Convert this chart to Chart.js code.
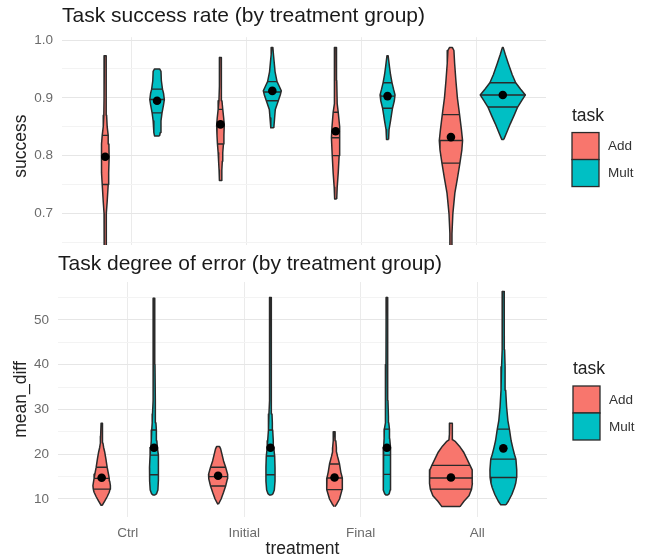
<!DOCTYPE html>
<html lang="en">
<meta charset="utf-8" />
<title>Task success rate / degree of error (violins)</title>
<script src="https://cdn.jsdelivr.net/npm/chart.js@4.4.1"></script>

<style>
body{margin:0;background:#fff;width:650px;height:560px;position:relative;overflow:hidden}
canvas{position:absolute;left:0;background:#fff}
#top{top:0}
#bottom{top:245px}
</style>

<body>
<canvas id="top" width="650" height="272"></canvas>
<canvas id="bottom" width="650" height="315"></canvas>

<script>
/*── categories ──*/
const treatments = ['Ctrl', 'Initial', 'Final', 'All'];
const tasks      = ['Add', 'Mult'];
const taskColors = ['#F8766D', '#00BFC4'];

/*── violin outlines: [value, half-width in category units], bottom to top ──*/
const successAddShape = [
  [[0.64,0.009],[0.665,0.009],[0.70,0.010],[0.72,0.017],[0.75,0.026],[0.77,0.030],[0.797,0.034],[0.82,0.032],[0.835,0.026],[0.85,0.017],[0.87,0.012],[0.90,0.010],[0.973,0.007]],
  [[0.757,0.009],[0.775,0.012],[0.79,0.016],[0.805,0.020],[0.82,0.026],[0.835,0.030],[0.852,0.033],[0.865,0.028],[0.88,0.020],[0.895,0.013],[0.92,0.009],[0.97,0.007]],
  [[0.725,0.009],[0.745,0.013],[0.77,0.022],[0.80,0.030],[0.831,0.037],[0.85,0.032],[0.875,0.022],[0.89,0.013],[0.93,0.009],[0.987,0.007]],
  [[0.64,0.009],[0.665,0.009],[0.70,0.017],[0.735,0.034],[0.76,0.056],[0.787,0.078],[0.81,0.095],[0.826,0.101],[0.845,0.091],[0.871,0.075],[0.90,0.056],[0.93,0.043],[0.96,0.032],[0.982,0.026],[0.987,0.013]]
];
const successMultShape = [
  [[0.834,0.022],[0.84,0.028],[0.86,0.034],[0.874,0.043],[0.888,0.056],[0.897,0.063],[0.908,0.056],[0.915,0.047],[0.93,0.037],[0.946,0.034],[0.95,0.022]],
  [[0.848,0.013],[0.865,0.020],[0.88,0.026],[0.895,0.052],[0.905,0.069],[0.912,0.078],[0.92,0.060],[0.928,0.041],[0.945,0.024],[0.96,0.017],[0.975,0.010],[0.987,0.005]],
  [[0.828,0.009],[0.845,0.013],[0.86,0.026],[0.882,0.043],[0.895,0.059],[0.905,0.065],[0.915,0.052],[0.926,0.039],[0.94,0.026],[0.955,0.016],[0.973,0.005]],
  [[0.828,0.009],[0.84,0.034],[0.855,0.065],[0.87,0.099],[0.884,0.129],[0.895,0.164],[0.905,0.196],[0.915,0.155],[0.926,0.112],[0.94,0.082],[0.96,0.047],[0.975,0.022],[0.987,0.004]]
];
const errorAddShape = [
  [[8.6,0.005],[9.5,0.026],[10.5,0.047],[11.5,0.065],[12.2,0.072],[13,0.075],[14,0.069],[14.6,0.065],[15.5,0.059],[17.1,0.047],[19,0.036],[20.5,0.026],[21.5,0.017],[22.5,0.011],[24,0.009],[26.9,0.005]],
  [[8.9,0.004],[10,0.026],[11.5,0.047],[12.9,0.065],[14.5,0.080],[15.5,0.082],[17.1,0.065],[18.5,0.047],[20,0.033],[21.2,0.022],[21.7,0.013]],
  [[8.3,0.004],[9,0.022],[10,0.043],[12.1,0.065],[13.3,0.069],[14.7,0.065],[16,0.054],[17.8,0.043],[19.5,0.026],[20.5,0.017],[21.5,0.016],[23,0.011],[25,0.005]],
  [[8.3,0.078],[9.5,0.112],[10.7,0.155],[12.2,0.177],[13.5,0.184],[14.7,0.184],[16.5,0.181],[17.5,0.164],[19.4,0.129],[20.5,0.108],[21.8,0.073],[22.8,0.039],[23.2,0.017],[24.5,0.013],[26.9,0.011]]
];
const errorMultShape = [
  [[10.9,0.009],[11.2,0.022],[12,0.033],[14,0.037],[15.4,0.039],[17,0.039],[19.8,0.034],[21.5,0.028],[23,0.024],[25.4,0.020],[27,0.016],[29,0.013],[32,0.009],[40,0.008],[50,0.007],[54.8,0.005]],
  [[10.9,0.009],[11.2,0.022],[12,0.033],[14,0.039],[15.4,0.039],[17,0.039],[19.6,0.036],[21.5,0.028],[23,0.024],[25.4,0.019],[27,0.016],[29,0.013],[32,0.009],[40,0.008],[50,0.007],[55,0.005]],
  [[10.9,0.009],[11.2,0.020],[12,0.028],[14,0.033],[15.5,0.033],[17.5,0.032],[19.8,0.029],[21.5,0.028],[23.5,0.024],[25.6,0.022],[27,0.016],[28.4,0.013],[32,0.009],[40,0.008],[50,0.007],[55,0.005]],
  [[8.7,0.022],[9.5,0.043],[11,0.073],[12.5,0.095],[13.5,0.106],[14.8,0.114],[16.5,0.115],[18.9,0.108],[20,0.095],[21.3,0.082],[23,0.067],[25.6,0.052],[27.5,0.039],[30.6,0.028],[34.3,0.020],[39.5,0.015],[43.3,0.011],[50,0.009],[56.3,0.007]]
];

/*── quartile lines (25 / 50 / 75 %) and means ──*/
const successAddQuart  = [[0.75,0.797,0.835],[0.82,0.852,0.88],[0.80,0.831,0.875],[0.787,0.826,0.871]];
const successMultQuart = [[0.874,0.897,0.915],[0.895,0.910,0.928],[0.882,0.903,0.926],[0.884,0.905,0.926]];
const successAddMean   = [0.798, 0.854, 0.842, 0.832];
const successMultMean  = [0.895, 0.912, 0.903, 0.905];

const errorAddQuart  = [[12.2,14.6,17.1],[12.9,15.0,17.1],[12.1,14.7,17.8],[12.2,14.7,17.5]];
const errorMultQuart = [[15.4,19.8,25.4],[15.4,19.6,25.4],[15.5,19.8,25.6],[14.8,18.9,25.6]];
const errorAddMean   = [14.75, 15.2, 14.8, 14.8];
const errorMultMean  = [21.45, 21.45, 21.45, 21.3];

/*── y tick positions ──*/
const successMajor = [0.7, 0.8, 0.9, 1.0];
const successMinor = [0.65, 0.75, 0.85, 0.95];
const errorMajor   = [10, 20, 30, 40, 50];
const errorMinor   = [15, 25, 35, 45, 55];

Chart.defaults.font.family = '"Liberation Sans", Arial, sans-serif';

const dodge = [-0.225, 0.225];   // Add left, Mult right

// violin edge at value v, between the two neighbouring outline points
function edgeAt(prof, v){
  for (let i = 1; i < prof.length; i++){
    const [v0, w0] = prof[i-1], [v1, w1] = prof[i];
    if (v >= v0 && v <= v1) return w0 + (w1 - w0) * (v - v0) / (v1 - v0);
  }
  return 0;
}

function panelDatasets(shapes, quarts, means){
  const sets = [];
  tasks.forEach((task, k) => {
    treatments.forEach((t, i) => {
      const c = i + 1 + dodge[k];
      const prof = shapes[k][i];
      const right = prof.map(([v, w]) => ({x: c + w, y: v}));
      const left  = prof.slice().reverse().map(([v, w]) => ({x: c - w, y: v}));
      sets.push({
        data: right.concat(left, [right[0]]),
        fill: 'shape', backgroundColor: taskColors[k],
        borderColor: '#2a2a2a', borderWidth: 1.5, borderJoinStyle: 'round',
        pointRadius: 0, tension: 0, order: 2
      });
      const lines = [];
      quarts[k][i].forEach(q => {
        const w = edgeAt(prof, q);
        lines.push({x: c - w, y: q}, {x: c + w, y: q}, {x: null, y: null});
      });
      sets.push({data: lines, fill: false, borderColor: '#2a2a2a', borderWidth: 1.4, pointRadius: 0, order: 1});
    });
    sets.push({
      data: means[k].map((m, i) => ({x: i + 1 + dodge[k], y: m})),
      showLine: false, pointRadius: 4.3, pointBackgroundColor: '#000', pointBorderWidth: 0, order: 0
    });
  });
  return sets;
}

/* legend "task" drawn beside the panel */
const taskLegend = {
  id: 'taskLegend',
  afterDraw(chart){
    const {ctx, chartArea: a} = chart;
    const x = a.right + 26, mid = (a.top + a.bottom) / 2;
    ctx.save();
    ctx.textAlign = 'left';
    ctx.textBaseline = 'middle';
    ctx.fillStyle = '#222';
    ctx.font = '17.5px "Liberation Sans", Arial, sans-serif';
    ctx.fillText('task', x, mid - 30);
    tasks.forEach((t, i) => {
      const y = mid - 13.5 + i * 27;
      ctx.fillStyle = taskColors[i];
      ctx.fillRect(x, y, 27, 27);
      ctx.strokeStyle = '#2a2a2a';
      ctx.lineWidth = 1.3;
      ctx.strokeRect(x, y, 27, 27);
      ctx.fillStyle = '#333';
      ctx.font = '13.5px "Liberation Sans", Arial, sans-serif';
      ctx.fillText(t, x + 36, y + 14);
    });
    ctx.restore();
  }
};

function panelOptions(o){
  return {
    responsive: false, animation: false, events: [],
    layout: { padding: { left: 0, right: o.padRight, top: 0, bottom: o.padBottom } },
    plugins: {
      legend: { display: false }, tooltip: { enabled: false },
      title: { display: true, text: o.title, align: 'start', fullSize: false, color: '#1a1a1a',
               font: { size: 21, weight: 'normal' }, padding: o.titlePad }
    },
    scales: {
      x: {
        type: 'linear', min: 0.4, max: 4.6,
        afterBuildTicks: s => { s.ticks = treatments.map((t, i) => ({ value: i + 1 })); },
        afterFit: s => { if (o.showX) s.height = 43; },
        grid: { color: '#ebebeb', drawTicks: false }, border: { display: false },
        ticks: { display: o.showX, padding: 8, color: '#6b6b6b', font: { size: 13.5 },
                 callback: v => treatments[v - 1] },
        title: { display: o.showX, text: 'treatment', color: '#222', font: { size: 17.5 }, padding: 0 }
      },
      y: {
        min: o.yMin, max: o.yMax,
        afterBuildTicks: s => { s.ticks = o.major.concat(o.minor).sort((a, b) => a - b).map(v => ({ value: v })); },
        afterFit: s => { s.width = o.yWidth; },
        grid: { drawTicks: false, color: c => o.major.includes(c.tick.value) ? '#e6e6e6' : '#f3f3f3' },
        border: { display: false },
        ticks: { padding: 9, color: '#6b6b6b', font: { size: 13.5 },
                 callback: v => o.major.includes(v) ? o.fmt(v) : '' },
        title: { display: true, text: o.yTitle, color: '#222', font: { size: 17.5 }, padding: { top: 10.5, bottom: 0 } }
      }
    }
  };
}

new Chart(document.getElementById('top'), {
  type: 'line',
  data: { datasets: panelDatasets([successAddShape, successMultShape], [successAddQuart, successMultQuart], [successAddMean, successMultMean]) },
  options: panelOptions({
    title: 'Task success rate (by treatment group)', titlePad: { top: 4, bottom: 8 },
    padRight: 104, padBottom: 5, showX: false, yWidth: 62,
    yMin: 0.628, yMax: 1.005, major: successMajor, minor: successMinor,
    fmt: v => v.toFixed(1), yTitle: 'success'
  }),
  plugins: [taskLegend]
});

new Chart(document.getElementById('bottom'), {
  type: 'line',
  data: { datasets: panelDatasets([errorAddShape, errorMultShape], [errorAddQuart, errorMultQuart], [errorAddMean, errorMultMean]) },
  options: panelOptions({
    title: 'Task degree of error (by treatment group)', titlePad: { top: 6.4, bottom: 5.4 },
    padRight: 103, padBottom: 0, showX: true, yWidth: 58,
    yMin: 5.98, yMax: 58.44, major: errorMajor, minor: errorMinor,
    fmt: v => String(v), yTitle: 'mean_diff'
  }),
  plugins: [taskLegend]
});
</script>
</body>
</html>
